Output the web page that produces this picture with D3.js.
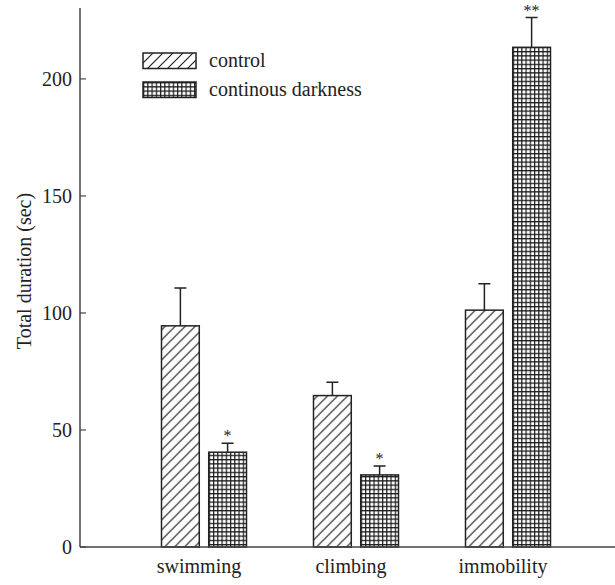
<!DOCTYPE html>
<html>
<head>
<meta charset="utf-8">
<script src="https://cdn.jsdelivr.net/npm/d3@7"></script>
<style>
  body { margin: 0; background: #fff; }
  text { font-family: "Liberation Serif", "Times New Roman", serif; fill: #222; }
</style>
</head>
<body>
<div class="container"></div>
<script>
var categories = ["swimming", "climbing", "immobility"];
var seriesNames = ["control", "continous darkness"];
var controlMean = [94.5, 64.7, 101.2];
var controlErr = [16.2, 5.7, 11.3];
var darkMean = [40.5, 30.8, 213.5];
var darkErr = [3.8, 3.8, 12.7];
var significance = ["*", "*", "**"];
var yTicks = [0, 50, 100, 150, 200];

var width = 615;
var height = 585;

var svg = d3
  .select(".container")
  .append("svg")
  .attr("width", width)
  .attr("height", height);

var defs = svg.append("defs");

// diagonal hatch for control
var hatch = defs
  .append("pattern")
  .attr("id", "hatch")
  .attr("patternUnits", "userSpaceOnUse")
  .attr("width", 10)
  .attr("height", 10);
hatch
  .append("path")
  .attr("d", "M0,10 L10,0 M-2.5,2.5 L2.5,-2.5 M7.5,12.5 L12.5,7.5")
  .attr("stroke", "#222")
  .attr("stroke-width", 1.2);

// grid for continuous darkness
var grid = defs
  .append("pattern")
  .attr("id", "grid")
  .attr("patternUnits", "userSpaceOnUse")
  .attr("width", 4.25)
  .attr("height", 4.25);
grid
  .append("path")
  .attr("d", "M0,0.6 H4.25 M0.6,0 V4.25")
  .attr("stroke", "#1a1a1a")
  .attr("stroke-width", 1.2);

var x0 = 80;
var yBase = 547;

var y = d3.scaleLinear().domain([0, 230.3]).range([yBase, 8]);

var x = d3.scaleBand().domain(categories).range([128, 584]).padding(0);

var xInner = d3
  .scaleBand()
  .domain(seriesNames)
  .range([x.bandwidth() / 2 - 42.5, x.bandwidth() / 2 + 42.5])
  .paddingInner(0.2);

var data = [];
categories.forEach(function (c, i) {
  data.push({ cat: c, series: seriesNames[0], mean: controlMean[i], err: controlErr[i], sig: "" });
  data.push({ cat: c, series: seriesNames[1], mean: darkMean[i], err: darkErr[i], sig: significance[i] });
});

function fillFor(s) {
  return s === seriesNames[0] ? "url(#hatch)" : "url(#grid)";
}

// bars
var bar = svg
  .selectAll("g.bar")
  .data(data)
  .enter()
  .append("g")
  .attr("class", "bar")
  .attr("transform", function (d) {
    return `translate(${x(d.cat) + xInner(d.series)},0)`;
  });

bar
  .append("rect")
  .attr("x", 0)
  .attr("y", function (d) {
    return y(d.mean);
  })
  .attr("width", xInner.bandwidth())
  .attr("height", function (d) {
    return yBase - y(d.mean);
  })
  .attr("fill", "#fff");

bar
  .append("rect")
  .attr("x", 0)
  .attr("y", function (d) {
    return y(d.mean);
  })
  .attr("width", xInner.bandwidth())
  .attr("height", function (d) {
    return yBase - y(d.mean);
  })
  .attr("fill", function (d) {
    return fillFor(d.series);
  })
  .attr("stroke", "#222")
  .attr("stroke-width", 1.5);

// error bars
var half = xInner.bandwidth() / 2;
bar
  .append("path")
  .attr("d", function (d) {
    var top = y(d.mean + d.err);
    return `M${half},${y(d.mean)} V${top} M${half - 6},${top} H${half + 6}`;
  })
  .attr("fill", "none")
  .attr("stroke", "#222")
  .attr("stroke-width", 1.5);

bar
  .append("text")
  .attr("x", half)
  .attr("y", function (d) {
    return y(d.mean + d.err) - 2;
  })
  .attr("text-anchor", "middle")
  .style("font-size", "16px")
  .text(function (d) {
    return d.sig;
  });

// axes
svg
  .append("line")
  .attr("x1", x0)
  .attr("x2", x0)
  .attr("y1", y(230.3))
  .attr("y2", yBase)
  .attr("stroke", "#444")
  .attr("stroke-width", 1.5);

svg
  .append("line")
  .attr("x1", x0)
  .attr("x2", width)
  .attr("y1", yBase)
  .attr("y2", yBase)
  .attr("stroke", "#444")
  .attr("stroke-width", 1.5);

var tick = svg
  .selectAll("g.tick")
  .data(yTicks)
  .enter()
  .append("g")
  .attr("class", "tick")
  .attr("transform", function (d) {
    return `translate(${x0},${y(d)})`;
  });

tick
  .append("line")
  .attr("x1", 0)
  .attr("x2", 6)
  .attr("stroke", "#444")
  .attr("stroke-width", 1.2);

tick
  .append("text")
  .attr("x", -8)
  .attr("dy", "0.34em")
  .attr("text-anchor", "end")
  .style("font-size", "20px")
  .text(function (d) {
    return d;
  });

svg
  .selectAll("text.xlabel")
  .data(categories)
  .enter()
  .append("text")
  .attr("class", "xlabel")
  .attr("x", function (d) {
    return x(d) + x.bandwidth() / 2 - 5;
  })
  .attr("y", 573)
  .attr("text-anchor", "middle")
  .style("font-size", "20px")
  .text(function (d) {
    return d;
  });

svg
  .append("text")
  .attr("transform", "translate(31,271) rotate(-90)")
  .attr("text-anchor", "middle")
  .style("font-size", "20px")
  .text("Total duration (sec)");

// legend
var legend = svg
  .selectAll("g.legend")
  .data(seriesNames)
  .enter()
  .append("g")
  .attr("class", "legend")
  .attr("transform", function (d, i) {
    return `translate(143,${53 + i * 29})`;
  });

legend
  .append("rect")
  .attr("width", 53)
  .attr("height", 15.5)
  .attr("fill", function (d) {
    return fillFor(d);
  })
  .attr("stroke", "#222")
  .attr("stroke-width", 1.5);

legend
  .append("text")
  .attr("x", 66)
  .attr("y", 14)
  .style("font-size", "20px")
  .text(function (d) {
    return d;
  });
</script>
</body>
</html>
